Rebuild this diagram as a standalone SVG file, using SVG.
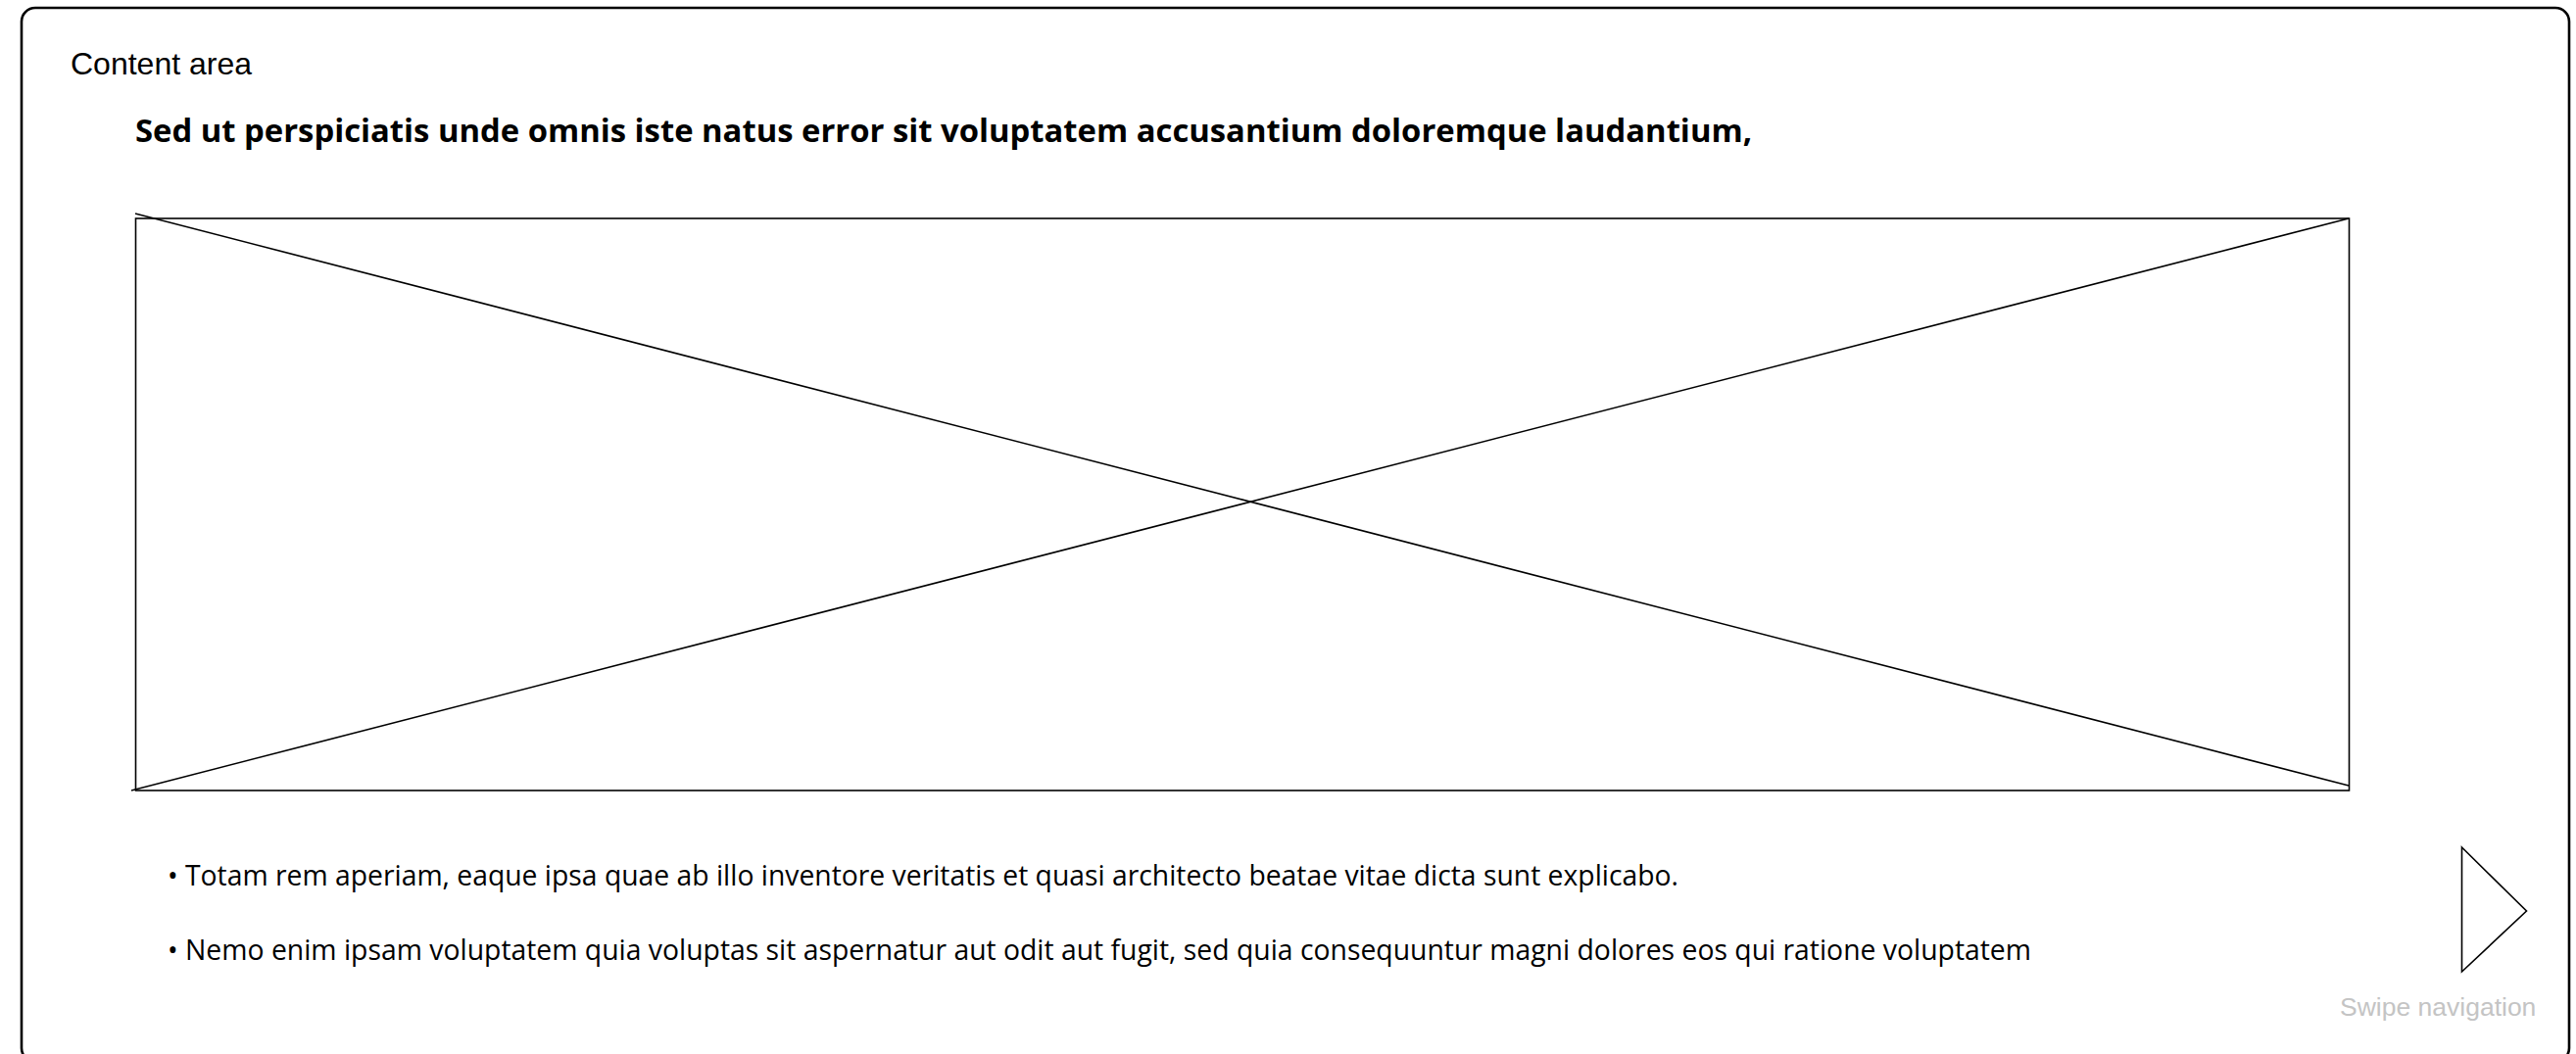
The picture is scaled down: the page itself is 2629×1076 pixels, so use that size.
<svg xmlns="http://www.w3.org/2000/svg" width="2629" height="1076" viewBox="0 0 2629 1076">
  <style>
    .label { font-family: "Liberation Sans", Arial, sans-serif; font-size: 32px; fill: #000; }
    .title { font-family: "Open Sans", "Noto Sans", sans-serif; font-size: 32px; font-weight: bold; fill: #000; }
    .body { font-family: "Open Sans", "Noto Sans", sans-serif; font-size: 30px; fill: #000; }
    .hint { font-family: "Liberation Sans", Arial, sans-serif; font-size: 26.5px; fill: #c4c4c4; }
    .thin { fill: none; stroke: #000; stroke-width: 1.6; }
  </style>
  <rect width="2629" height="1076" fill="#fff"/>
  <g id="content-area">
    <rect x="22" y="8" width="2600" height="1076" rx="14" ry="14" fill="#fff" stroke="#000" stroke-width="2.6"/>
    <text class="label" x="72" y="76">Content area</text>
  </g>
  <g id="title">
    <text class="title" x="138" y="144.5" textLength="1650" lengthAdjust="spacingAndGlyphs">Sed ut perspiciatis unde omnis iste natus error sit voluptatem accusantium doloremque laudantium,</text>
  </g>
  <g id="image-placeholder">
    <rect class="thin" x="138.5" y="223" width="2259" height="584"/>
    <line class="thin" x1="138" y1="218" x2="2397" y2="802"/>
    <line class="thin" x1="134" y1="807" x2="2397" y2="223"/>
  </g>
  <g id="bullets">
    <text class="body" x="171" y="904" textLength="1542" lengthAdjust="spacingAndGlyphs">• Totam rem aperiam, eaque ipsa quae ab illo inventore veritatis et quasi architecto beatae vitae dicta sunt explicabo.</text>
    <text class="body" x="171" y="980" textLength="1902" lengthAdjust="spacingAndGlyphs">• Nemo enim ipsam voluptatem quia voluptas sit aspernatur aut odit aut fugit, sed quia consequuntur magni dolores eos qui ratione voluptatem</text>
  </g>
  <g id="swipe-navigation">
    <polygon class="thin" points="2512.5,865 2578.5,930 2512.5,992"/>
    <text class="hint" x="2388" y="1037">Swipe navigation</text>
  </g>
  <g id="connectors"/>
</svg>
